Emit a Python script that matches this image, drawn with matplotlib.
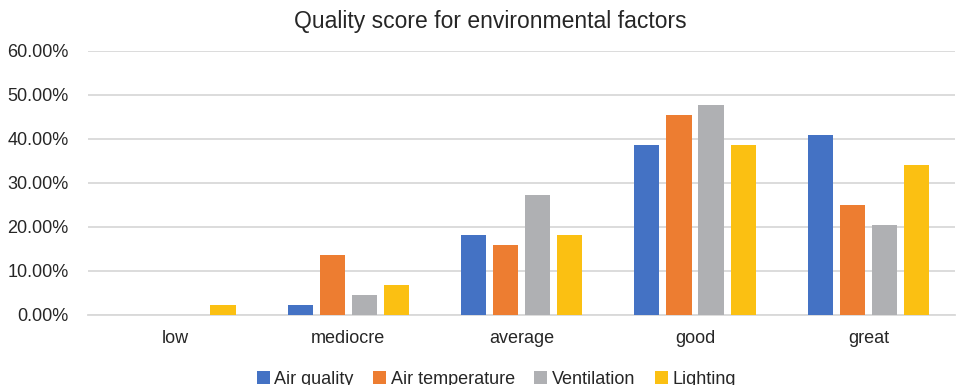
import numpy as np
import matplotlib.pyplot as plt
from matplotlib.ticker import FuncFormatter

plt.rcParams['font.family'] = ['Liberation Sans', 'DejaVu Sans']

categories = ['low', 'mediocre', 'average', 'good', 'great']
series_names = ['Air quality', 'Air temperature', 'Ventilation', 'Lighting']
air_quality = [0.00, 2.27, 18.18, 38.64, 40.91]
air_temperature = [0.00, 13.64, 15.91, 45.45, 25.00]
ventilation = [0.00, 4.55, 27.27, 47.73, 20.45]
lighting = [2.27, 6.82, 18.18, 38.64, 34.09]
colors = ['#4472C4', '#ED7D31', '#AFB0B3', '#FBC012']

fig = plt.figure(figsize=(9.58, 3.85), dpi=100)
ax = fig.add_axes([0.092, 0.182, 0.905, 0.686])

x = np.arange(len(categories))
step = 0.185
width = 0.145
for i, (vals, name) in enumerate(zip([air_quality, air_temperature, ventilation, lighting], series_names)):
    ax.bar(x + (i - 1.5) * step, vals, width, color=colors[i], label=name, zorder=3)

ax.set_xlim(-0.5, len(categories) - 0.5)
ax.set_ylim(0, 60)
ax.set_yticks(np.arange(0, 61, 10))
ax.yaxis.set_major_formatter(FuncFormatter(lambda v, p: f'{v:.2f}%'))
ax.set_xticks(x)
ax.set_xticklabels(categories)
ax.tick_params(axis='both', length=0, labelsize=13, colors='#262626')
ax.tick_params(axis='x', pad=11)
ax.tick_params(axis='y', pad=14)
ax.grid(axis='y', color='#D9D9D9', linewidth=1.3, zorder=0)
for s in ['top', 'right', 'left']:
    ax.spines[s].set_visible(False)
ax.spines['bottom'].set_color('#D9D9D9')
ax.spines['bottom'].set_linewidth(1.3)

fig.text(0.512, 0.945, 'Quality score for environmental factors', ha='center', va='center',
         fontsize=16.5, color='#262626')

fig.legend(loc='center', bbox_to_anchor=(0.518, 0.015), ncol=4, frameon=False, fontsize=13,
           handlelength=0.7, handleheight=0.7, handletextpad=0.25, columnspacing=1.1,
           labelcolor='#262626')

fig.savefig('out.png', dpi=100)
